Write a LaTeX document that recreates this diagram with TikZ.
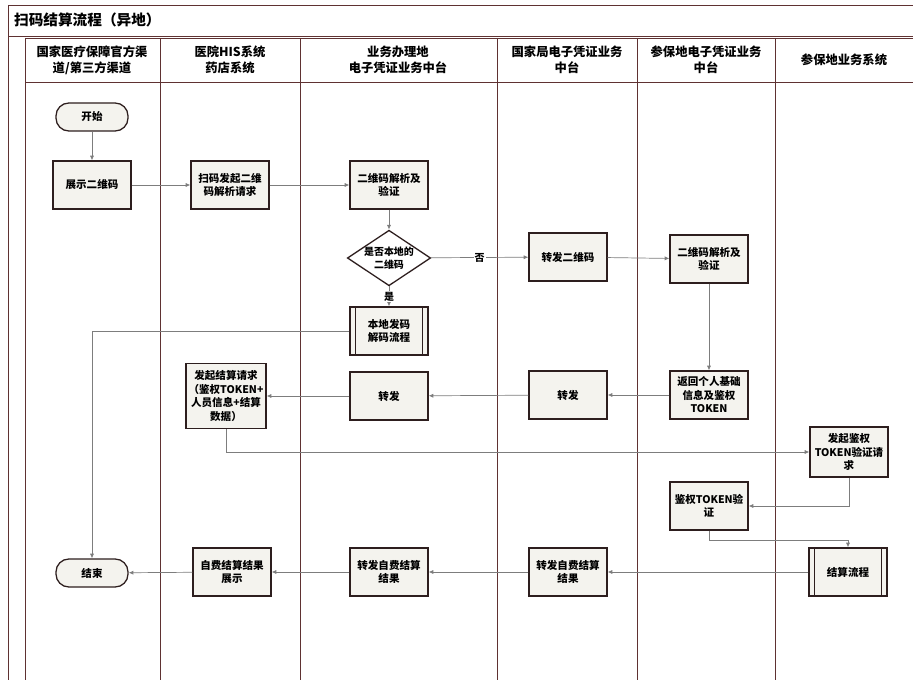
\documentclass[tikz,border=0pt]{standalone}
\usepackage{fontspec}
\setmainfont{Noto Sans CJK SC}
\usetikzlibrary{arrows.meta,positioning,shapes.geometric}
\definecolor{laneline}{RGB}{95,50,50}
\definecolor{boxline}{RGB}{45,30,30}
\definecolor{boxfill}{RGB}{244,243,238}
\definecolor{flowline}{RGB}{125,125,125}

\begin{document}
\begin{tikzpicture}[
  x=0.03cm, y=-0.03cm,
  >={Latex[length=4pt,width=3.5pt]},
  block/.style={rectangle, draw=boxline, line width=1.1pt, fill=boxfill, align=center, minimum width=2.34cm, minimum height=1.44cm, inner sep=1pt, font=\bfseries\fontsize{9}{11.5}\selectfont},
  subproc/.style={block, path picture={
      \draw[boxline, line width=0.8pt] ([xshift=5pt]path picture bounding box.north west) -- ([xshift=5pt]path picture bounding box.south west);
      \draw[boxline, line width=0.8pt] ([xshift=-5pt]path picture bounding box.north east) -- ([xshift=-5pt]path picture bounding box.south east);}},
  terminal/.style={rectangle, rounded corners=11pt, draw=boxline, line width=1.1pt, fill=boxfill, align=center, minimum width=2.16cm, minimum height=0.84cm, font=\bfseries\fontsize{9}{11}\selectfont},
  decision/.style={diamond, draw=boxline, line width=1.1pt, fill=white, align=center, aspect=1.5, inner sep=0pt, minimum width=2.4cm, minimum height=1.62cm, font=\bfseries\fontsize{8.5}{11}\selectfont},
  lanehead/.style={align=center, font=\bfseries\fontsize{10.5}{13.5}\selectfont},
  lane/.style={draw=laneline, line width=0.8pt},
  line/.style={draw=flowline, line width=0.6pt, ->},
  tag/.style={fill=white, inner sep=1pt, font=\bfseries\fontsize{8.5}{10}\selectfont}
]
\useasboundingbox (0,0) rectangle (913,680);

% frame and lanes
\draw[lane] (8,5) -- (913,5);
\draw[lane] (8,5) -- (8,680);
\draw[lane] (8,36) -- (913,36);
\draw[lane] (25,38) -- (913,38);
\draw[lane] (25,82) -- (913,82);
\foreach \x in {25,160,300,497,637,775}
  \draw[lane] (\x,38) -- (\x,680);
\node[anchor=west, font=\bfseries\fontsize{12.5}{15}\selectfont] (title) at (10,20) {扫码结算流程（异地）};

\node[lanehead] (h1) at (92,60) {国家医疗保障官方渠\\道/第三方渠道};
\node[lanehead] (h2) at (230,60) {医院HIS系统\\药店系统};
\node[lanehead] (h3) at (398,60) {业务办理地\\电子凭证业务中台};
\node[lanehead] (h4) at (567,60) {国家局电子凭证业务\\中台};
\node[lanehead] (h5) at (706,60) {参保地电子凭证业务\\中台};
\node[lanehead] (h6) at (844,60) {参保地业务系统};

% steps
\node[terminal] (start) at (92,117) {开始};
\node[block] (showqr) at (92,185) {展示二维码};
\node[block] (scan) at (230,185) {扫码发起二维\\码解析请求};
\node[block] (parse) at (389,185) {二维码解析及\\验证};
\node[decision] (islocal) at (389,258) {是否本地的\\二维码};
\node[block] (fwdqr) at (568,257) {转发二维码};
\node[block] (parse2) at (709,259) {二维码解析及\\验证};
\node[subproc] (local) at (389,331) {本地发码\\解码流程};
\node[block, minimum width=2.4cm, minimum height=1.95cm] (req) at (226,396) {发起结算请求\\（鉴权TOKEN+\\人员信息+结算\\数据）};
\node[block] (fwdA) at (389,396) {转发};
\node[block] (fwdB) at (568,395) {转发};
\node[block] (ret) at (709,395) {返回个人基础\\信息及鉴权\\TOKEN};
\node[block, minimum height=1.5cm] (authreq) at (849,452) {发起鉴权\\TOKEN验证请\\求};
\node[block] (authchk) at (709,506) {鉴权TOKEN验\\证};
\node[subproc] (settle) at (848,572) {结算流程};
\node[block] (fwdC) at (568,572) {转发自费结算\\结果};
\node[block] (fwdD) at (389,572) {转发自费结算\\结果};
\node[block] (result) at (232,572) {自费结算结果\\展示};
\node[terminal] (end) at (92,573) {结束};

% connectors
\path[line] (start) -- (showqr);
\path[line] (showqr) -- (scan);
\path[line] (scan) -- (parse);
\path[line] (parse) -- (islocal);
\path[line] (islocal) -- (fwdqr) node[tag, midway]{否};
\path[line] (islocal) -- (local) node[tag, midway]{是};
\path[line] (fwdqr) -- (parse2);
\path[line] (local.west) -| (end.north);
\path[line] (parse2) -- (ret);
\path[line] (ret) -- (fwdB);
\path[line] (fwdB) -- (fwdA);
\path[line] (fwdA) -- (req);
\path[line] (req.south) |- (authreq.west);
\path[line] (authreq.south) |- (authchk.east);
\path[line] (authchk.south) -- ++(0,10) -| (settle.north);
\path[line] (settle) -- (fwdC);
\path[line] (fwdC) -- (fwdD);
\path[line] (fwdD) -- (result);
\path[line] (result) -- (end);

\end{tikzpicture}
\end{document}
